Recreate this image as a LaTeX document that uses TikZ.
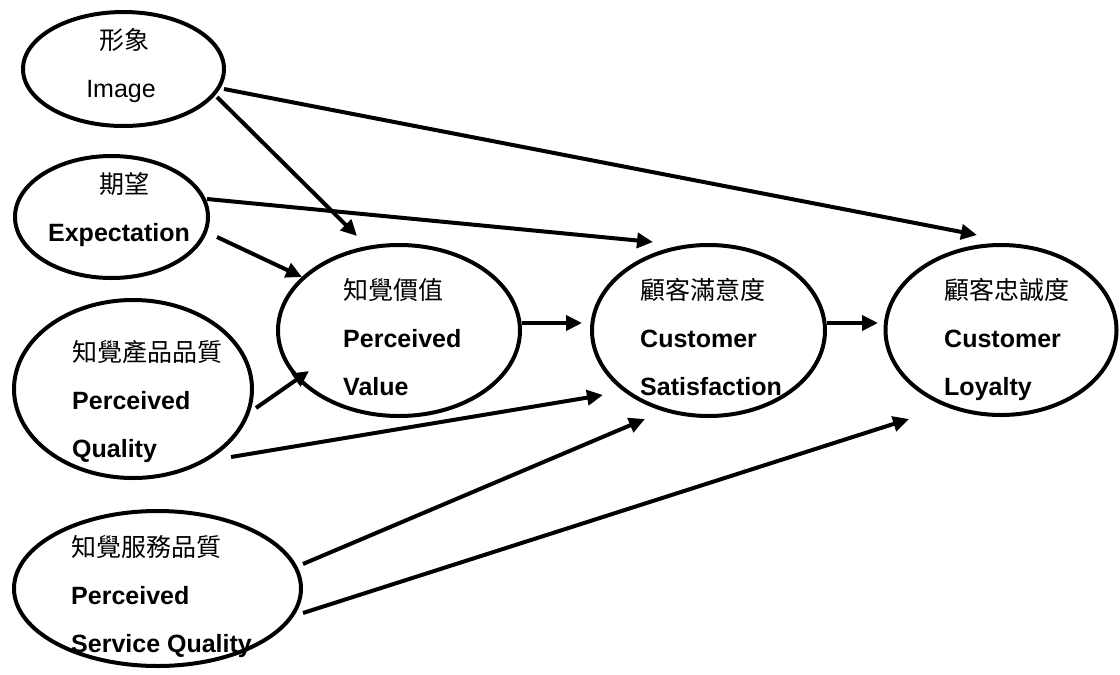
\documentclass[tikz,border=0pt]{standalone}
\usepackage{fontspec}
\setmainfont{Liberation Sans}
\newfontfamily\cjk{Noto Sans CJK TC}
\usetikzlibrary{shapes.geometric,arrows.meta}
\begin{document}
\begin{tikzpicture}[x=1pt,y=-1pt,
  oval/.style={draw, ellipse, line width=4pt, inner sep=0pt, outer sep=0pt},
  lbl/.style={inner sep=0pt, anchor=base west, font=\fontsize{25}{30}\selectfont},
  lblc/.style={inner sep=0pt, anchor=base, font=\fontsize{25}{30}\selectfont},
  arr/.style={line width=4pt, -{Triangle[length=16pt,width=15pt]}}]
\useasboundingbox (0,0) rectangle (1120,675);

% constructs
\node[oval, minimum width=201pt, minimum height=114pt] (img) at (123.5,69) {};
\node[oval, minimum width=193pt, minimum height=122pt] (exp) at (111.5,217) {};
\node[oval, minimum width=238pt, minimum height=178pt] (pq)  at (133,389) {};
\node[oval, minimum width=287pt, minimum height=155pt] (sq)  at (157.5,588.5) {};
\node[oval, minimum width=242pt, minimum height=171pt] (pv)  at (399,330.5) {};
\node[oval, minimum width=233pt, minimum height=171pt] (cs)  at (708.5,330.5) {};
\node[oval, minimum width=231pt, minimum height=170pt] (loy) at (1001,330) {};

% labels
\node[lblc] (imgzh) at (124,49) {\cjk 形象};
\node[lblc] (imgen) at (121,97) {Image};
\node[lblc] (expzh) at (124,193) {\cjk 期望};
\node[lblc] (expen) at (119,241) {\bfseries Expectation};

\node[lbl] (pqzh) at (72,361) {\cjk 知覺產品品質};
\node[lbl] (pqen1) at (72,409) {\bfseries Perceived};
\node[lbl] (pqen2) at (72,457) {\bfseries Quality};

\node[lbl] (sqzh) at (71,556) {\cjk 知覺服務品質};
\node[lbl] (sqen1) at (71,604) {\bfseries Perceived};
\node[lbl] (sqen2) at (71,652) {\bfseries Service Quality};

\node[lbl] (pvzh) at (343,299) {\cjk 知覺價值};
\node[lbl] (pven1) at (343,347) {\bfseries Perceived};
\node[lbl] (pven2) at (343,395) {\bfseries Value};

\node[lbl] (cszh) at (640,299) {\cjk 顧客滿意度};
\node[lbl] (csen1) at (640,347) {\bfseries Customer};
\node[lbl] (csen2) at (640,395) {\bfseries Satisfaction};

\node[lbl] (loyzh) at (944,299) {\cjk 顧客忠誠度};
\node[lbl] (loyen1) at (944,347) {\bfseries Customer};
\node[lbl] (loyen2) at (944,395) {\bfseries Loyalty};

% paths
\draw[arr] ([shift={(100.5,20)}]img.center) -- ([shift={(-24,-95)}]loy.center);
\draw[arr] ([shift={(93.5,28)}]img.center) -- ([shift={(-42,-94.5)}]pv.center);
\draw[arr] ([shift={(95.5,-18)}]exp.center) -- ([shift={(-55.5,-88.5)}]cs.center);
\draw[arr] ([shift={(105.5,20)}]exp.center) -- ([shift={(-97,-53.5)}]pv.center);
\draw[arr] ([shift={(123,19)}]pq.center) -- ([shift={(-90,40.5)}]pv.center);
\draw[arr] ([shift={(98,68)}]pq.center) -- ([shift={(-105.5,64.5)}]cs.center);
\draw[arr] ([shift={(145.5,-24.5)}]sq.center) -- ([shift={(-63.5,88.5)}]cs.center);
\draw[arr] ([shift={(145.5,24.5)}]sq.center) -- ([shift={(-92,89)}]loy.center);
\draw[arr] ([shift={(123,-7.5)}]pv.center) -- ([shift={(-126.5,-7.5)}]cs.center);
\draw[arr] ([shift={(118.5,-7.5)}]cs.center) -- ([shift={(-123,-7)}]loy.center);
\end{tikzpicture}
\end{document}
